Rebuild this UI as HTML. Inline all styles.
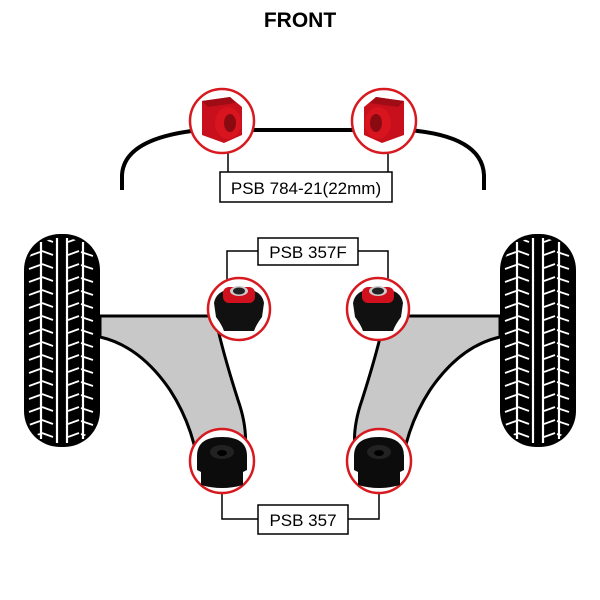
<!DOCTYPE html>
<html><head><meta charset="utf-8"><style>html,body{margin:0;padding:0;background:#fff}svg{display:block}</style></head>
<body>
<svg width="600" height="600" viewBox="0 0 600 600" xmlns="http://www.w3.org/2000/svg" font-family="Liberation Sans, sans-serif">
<defs>
<pattern id="tread" x="0" y="236" width="80" height="13" patternUnits="userSpaceOnUse">
<g stroke="#fff" stroke-width="1.8" fill="none">
<line x1="5" y1="7" x2="16" y2="3"/><line x1="18" y1="2" x2="29" y2="6"/>
<line x1="44" y1="6" x2="55" y2="2"/><line x1="57" y1="3" x2="69" y2="7"/>
</g>
</pattern>
<g id="tire">
<rect x="0" y="0" width="76" height="213" rx="36" fill="#000"/>
<rect x="2" y="4" width="72" height="205" rx="34" fill="url(#tread)"/>
<g stroke="#fff" stroke-width="2.2">
<line x1="17" y1="8" x2="17" y2="205"/><line x1="59" y1="8" x2="59" y2="205"/>
<line x1="33" y1="4" x2="33" y2="209"/><line x1="43" y1="4" x2="43" y2="209"/>
</g>
</g>
<g id="sbush">
<path d="M-20,-20 L8,-24 L20,-14 L20,14 L2,22 L-20,14 Z" fill="#c8101c"/>
<ellipse cx="6" cy="2" rx="13" ry="16" fill="#d8141f"/>
<ellipse cx="8" cy="2" rx="6" ry="9" fill="#8a0a12"/>
<path d="M-20,-20 L8,-24 L14,-18 L-14,-14 Z" fill="#a00c16"/>
</g>
<g id="tbush">
<path d="M-25,-8 Q-23,-20 -8,-22 L8,-22 Q23,-20 25,-8 L23,6 Q17,14 15,20 L-15,20 Q-17,14 -23,6 Z" fill="#111"/>
<rect x="-16" y="-24" width="32" height="16" rx="6" fill="#d0101c"/>
<ellipse cx="0" cy="-20" rx="9" ry="5" fill="#ccc"/>
<ellipse cx="0" cy="-20" rx="6" ry="3.5" fill="#222"/>
</g>
<g id="bbush">
<path d="M-25,-6 Q-25,-25 0,-25 Q25,-25 25,-6 L25,8 L21,10 L21,23 Q0,29 -21,23 L-21,10 L-25,8 Z" fill="#0c0c0c"/>
<ellipse cx="0" cy="-10" rx="12" ry="7" fill="#222"/>
<ellipse cx="0" cy="-9" rx="5" ry="3" fill="#000"/>
</g>
</defs>

<text x="300" y="27" text-anchor="middle" font-size="21" font-weight="bold">FRONT</text>

<path d="M122,190 L122,175 Q124,138 200,130 L408,130 Q482,136 484,175 L484,190" fill="none" stroke="#000" stroke-width="4"/>
<line x1="228" y1="150" x2="228" y2="172" stroke="#000" stroke-width="1.5"/>
<line x1="388" y1="150" x2="388" y2="172" stroke="#000" stroke-width="1.5"/>
<rect x="220" y="172" width="172" height="30" fill="#fff" stroke="#000" stroke-width="1.5"/>
<text x="306" y="194" text-anchor="middle" font-size="17">PSB 784-21(22mm)</text>
<circle cx="222" cy="121" r="32" fill="#fff" stroke="#d71920" stroke-width="2.5"/>
<use href="#sbush" x="222" y="121"/>
<circle cx="384" cy="121" r="32" fill="#fff" stroke="#d71920" stroke-width="2.5"/>
<g transform="translate(384,121) scale(-1,1)"><use href="#sbush"/></g>

<path d="M100,316 L215,316 Q222,350 238,400 Q252,440 240,470 L200,480 Q196,430 170,390 Q140,346 100,337 Z" fill="#c8c8c8" stroke="#000" stroke-width="3"/>
<path d="M500,316 L385,316 Q378,350 362,400 Q348,440 360,470 L400,480 Q404,430 430,390 Q460,346 500,337 Z" fill="#c8c8c8" stroke="#000" stroke-width="3"/>

<use href="#tire" x="24" y="234"/>
<use href="#tire" x="500" y="234"/>

<path d="M227,282 L227,251 L258,251 M388,282 L388,251 L358,251" fill="none" stroke="#000" stroke-width="1.5"/>
<rect x="258" y="238" width="100" height="27" fill="#fff" stroke="#000" stroke-width="1.5"/>
<text x="308" y="258" text-anchor="middle" font-size="17">PSB 357F</text>
<circle cx="239" cy="309" r="31" fill="#fff" stroke="#d71920" stroke-width="2.5"/>
<use href="#tbush" x="239" y="311"/>
<circle cx="378" cy="309" r="31" fill="#fff" stroke="#d71920" stroke-width="2.5"/>
<use href="#tbush" x="378" y="311"/>

<path d="M222,490 L222,519 L258,519 M379,490 L379,519 L348,519" fill="none" stroke="#000" stroke-width="1.5"/>
<rect x="258" y="505" width="90" height="29" fill="#fff" stroke="#000" stroke-width="1.5"/>
<text x="303" y="526" text-anchor="middle" font-size="17">PSB 357</text>
<circle cx="222" cy="461" r="32" fill="#fff" stroke="#d71920" stroke-width="2.5"/>
<use href="#bbush" x="222" y="462"/>
<circle cx="379" cy="461" r="32" fill="#fff" stroke="#d71920" stroke-width="2.5"/>
<use href="#bbush" x="379" y="462"/>
</svg>
</body></html>
